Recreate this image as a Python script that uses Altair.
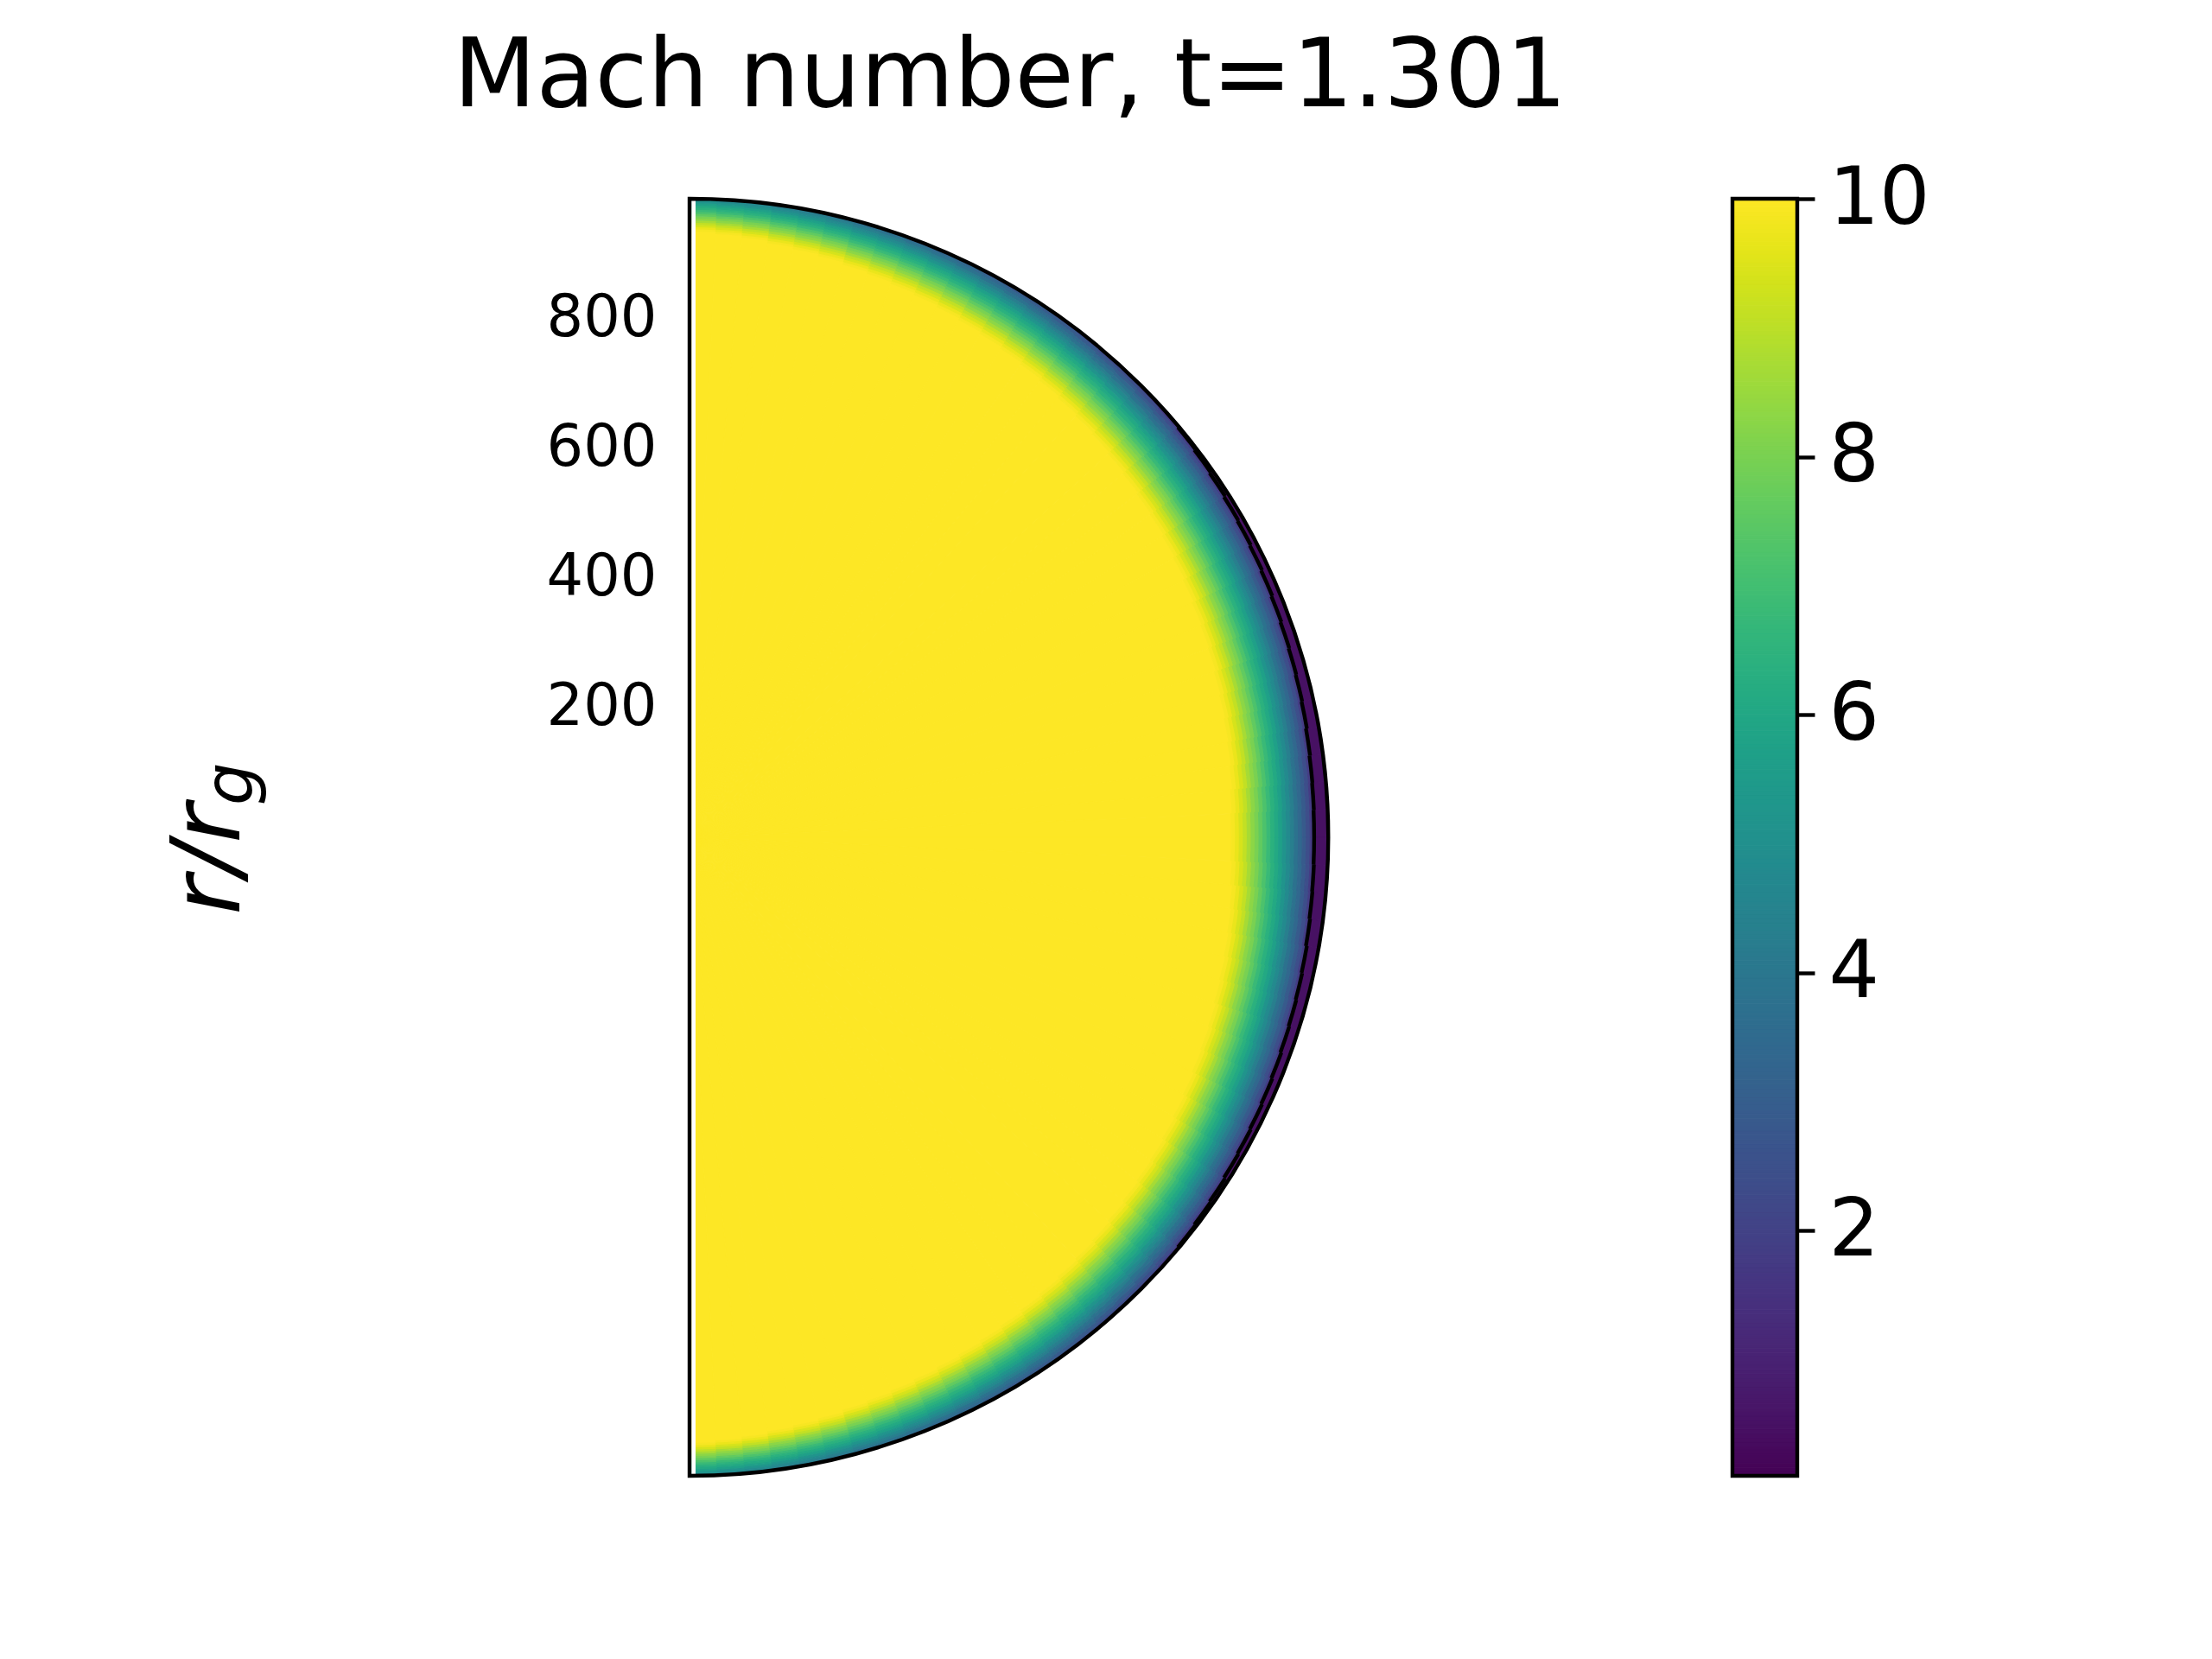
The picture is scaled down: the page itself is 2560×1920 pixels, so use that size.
import altair as alt
import numpy as np
import pandas as pd

# ---------------- data ----------------
title_text = "Mach number, t=1.301"
r_max = 985                      # outer radius of the plot (r/r_g)
core_mach = 10                   # interior is uniform yellow (Mach >= 10)
post_shock_mach = 0.5            # dark purple strip outside the shock front

# Mach number across the transition band, read along the equator
# from the edge of the yellow core out to the shock front
profile_mach = [9.9, 9.7, 9.4, 9.1, 8.7, 8.3, 8.0, 7.6, 7.2, 6.8, 6.4,
                6.1, 5.7, 5.2, 4.8, 4.3, 3.8, 3.4, 2.9, 2.4, 1.8]

# band geometry per 2.5 deg sector (angle from the pole, north half;
# the south half is its mirror image)
sector_width = 2.5
band_inner = [935, 932, 929, 925, 922, 919, 915, 912, 909, 906, 903, 900,
              897, 894, 891, 888, 885, 882, 879, 876, 873, 870, 868, 865,
              862, 859, 856, 854, 852, 849, 847, 845, 843, 841, 838, 836]
band_shock = [1005.5, 1004.5, 1004, 1003, 1002, 1001, 1000, 999.5, 998.5, 997.5,
              996.5, 995, 994, 993, 992, 991, 989.5, 988.5, 987, 985.5, 983.5,
              981.5, 979.5, 977.5, 976, 974.5, 973, 971.5, 970, 969, 968, 967,
              965.5, 964.5, 964, 963.5]

r_ticks = [200, 400, 600, 800]
cbar_ticks = [2, 4, 6, 8, 10]
cbar_min, cbar_max = 0.1, 10

# ---------------- layout (pixels) ----------------
W, H = 1282, 1478          # view: from polar axis line to colourbar right edge
R_PX = 739                 # plot radius in pixels
CY = 739                   # centre of the half disc (view coords)
CB_X0, CB_X1 = 1207, 1282  # colourbar
FONT = "DejaVu Sans"

# ---------------- tables ----------------
recs, shock_recs = [], []
for k, (r_in, r_s) in enumerate(zip(band_inner, band_shock)):
    a0, a1 = k * sector_width, (k + 1) * sector_width
    spans = [(a0, a1), (180 - a1, 180 - a0)]
    cells_k = [(0, r_in, core_mach)]
    n = len(profile_mach)
    dr = (r_s - r_in) / n
    for j, v in enumerate(profile_mach):
        r0, r1 = r_in + j * dr, min(r_in + (j + 1) * dr, r_max)
        if r0 < r_max:
            cells_k.append((r0, r1, v))
    if r_s < r_max:
        cells_k.append((r_s, r_max, post_shock_mach))
    for (t0, t1) in spans:
        for (r0, r1, v) in cells_k:
            recs.append(dict(t0=t0, t1=t1, r0=r0, r1=r1, mach=v))
        if r_s < r_max:
            shock_recs.append(dict(t0=t0, t1=t1, r0=r_s, r1=r_s))
cells_df = pd.DataFrame(recs)
shock_df = pd.DataFrame(shock_recs)
frame_df = pd.DataFrame([dict(t0=0, t1=180, r0=0, r1=r_max)])
gap_df = pd.DataFrame([dict(ra=r_max, rb=-r_max)])

cb_edges = np.linspace(cbar_min, cbar_max, 301)
cb_df = pd.DataFrame({"v0": cb_edges[:-1], "v1": cb_edges[1:],
                      "mach": (cb_edges[:-1] + cb_edges[1:]) / 2})
cb_border_df = pd.DataFrame([dict(v0=cbar_min, v1=cbar_max)])

# ---------------- scales ----------------
theta_scale = alt.Scale(domain=[0, 360], range=[0, 2 * np.pi], nice=False, zero=False)
radius_scale = alt.Scale(type="linear", domain=[0, r_max], range=[0, R_PX], nice=False, zero=True)
color_scale = alt.Scale(scheme="viridis", domain=[cbar_min, cbar_max], clamp=True)
r_scale = alt.Scale(domain=[0, r_max], range=[CY, 0], nice=False, zero=False)

def polar_enc(ch):
    return ch.encode(
        x=alt.value(0), y=alt.value(CY),
        theta=alt.Theta("t0:Q", scale=theta_scale, stack=False),
        theta2="t1:Q",
        radius=alt.Radius("r1:Q", scale=radius_scale),
        radius2="r0:Q",
    )

cells = polar_enc(alt.Chart(cells_df).mark_arc(strokeWidth=1)).encode(
    color=alt.Color("mach:Q", scale=color_scale, legend=None),
    stroke=alt.Stroke("mach:Q", scale=color_scale, legend=None),
)
# thin empty strip along the polar axis (data start slightly off the axis)
gap = alt.Chart(gap_df).mark_rect(color="white").encode(
    x=alt.value(2.2), x2=alt.value(7),
    y=alt.Y("ra:Q", scale=r_scale, axis=None), y2="rb:Q",
)
shock = polar_enc(alt.Chart(shock_df).mark_arc(filled=False, stroke="black", strokeWidth=4.4))
frame = polar_enc(alt.Chart(frame_df).mark_arc(filled=False, stroke="black", strokeWidth=4.4,
                                                strokeJoin="miter"))

cb_scale = alt.Scale(domain=[cbar_min, cbar_max], range=[H, 0], nice=False, zero=False)
cbar = alt.Chart(cb_df).mark_rect(strokeWidth=1).encode(
    x=alt.value(CB_X0), x2=alt.value(CB_X1),
    y=alt.Y("v0:Q", scale=cb_scale,
            axis=alt.Axis(orient="right", values=cbar_ticks, title=None, grid=False,
                          domain=False, ticks=True, tickSize=20, tickWidth=4.4,
                          tickColor="black", labelFontSize=92, labelFont=FONT,
                          labelColor="black", labelPadding=16, labelFlush=False,
                          labelOverlap=False)),
    y2="v1:Q",
    color=alt.Color("mach:Q", scale=color_scale, legend=None),
    stroke=alt.Stroke("mach:Q", scale=color_scale, legend=None),
)
cbar_border = alt.Chart(cb_border_df).mark_rect(filled=False, stroke="black", strokeWidth=4.4).encode(
    x=alt.value(CB_X0), x2=alt.value(CB_X1),
    y=alt.Y("v0:Q", scale=cb_scale, axis=None),
    y2="v1:Q",
)

raxis = alt.Chart(pd.DataFrame({"r": r_ticks})).mark_point(opacity=0).encode(
    x=alt.value(0),
    y=alt.Y("r:Q", scale=r_scale,
            axis=alt.Axis(orient="left", values=r_ticks, title=None, grid=False, domain=False,
                          ticks=False, tickSize=0, labelFontSize=67, labelFont=FONT,
                          labelColor="black", labelPadding=38)),
)

title_mark = alt.Chart(pd.DataFrame({"label": [title_text]})).mark_text(
    fontSize=111, font=FONT, align="center", baseline="alphabetic", color="black"
).encode(x=alt.value(371), y=alt.value(-107), text="label:N")

ylab_main = alt.Chart(pd.DataFrame({"label": ["r/r"]})).mark_text(
    fontSize=111, font=FONT, fontStyle="italic", align="left", baseline="alphabetic",
    angle=270, color="black"
).encode(x=alt.value(-521), y=alt.value(829), text="label:N")

ylab_sub = alt.Chart(pd.DataFrame({"label": ["g"]})).mark_text(
    fontSize=78, font=FONT, fontStyle="italic", align="left", baseline="alphabetic",
    angle=270, color="black"
).encode(x=alt.value(-506), y=alt.value(702), text="label:N")

chart = alt.layer(
    cells, gap, shock, frame, cbar, cbar_border, raxis, title_mark, ylab_main, ylab_sub
).resolve_scale(y="independent").properties(
    width=W, height=H,
    autosize=alt.AutoSizeParams(type="none"),
    padding={"left": 790, "top": 222, "right": 472, "bottom": 204},
    background="white",
).configure_view(strokeWidth=0)

chart.save("out.html", embed_options={"renderer": "svg", "actions": False})
